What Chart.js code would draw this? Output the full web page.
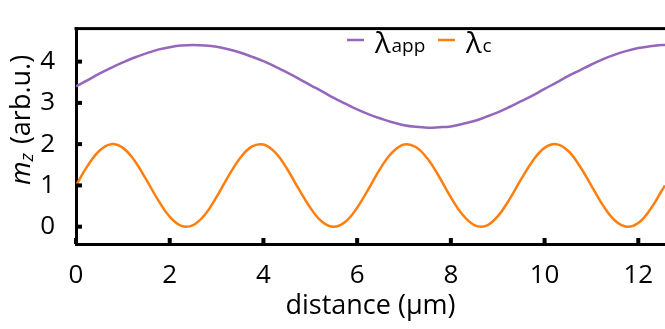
<!DOCTYPE html>
<html>
<head>
<meta charset="utf-8">
<script src="https://cdn.jsdelivr.net/npm/chart.js@4.4.0/dist/chart.umd.min.js"></script>
<style>
  html, body { margin: 0; padding: 0; background: #fff; }
  #wrap { width: 665px; height: 329px; position: relative; }
</style>
</head>
<body>
<div id="wrap"><canvas id="chart"></canvas></div>
<script>
// --- data ---
const distance = [0, 0.25, 0.5, 0.75, 1, 1.25, 1.5, 1.75, 2, 2.25, 2.5, 2.75, 3, 3.25, 3.5, 3.75,
  4, 4.25, 4.5, 4.75, 5, 5.25, 5.5, 5.75, 6, 6.25, 6.5, 6.75, 7, 7.25, 7.5, 7.75,
  8, 8.25, 8.5, 8.75, 9, 9.25, 9.5, 9.75, 10, 10.25, 10.5, 10.75, 11, 11.25, 11.5, 11.75,
  12, 12.25, 12.5, 12.57];
const lambdaApp = [3.40, 3.55, 3.71, 3.85, 3.98, 4.10, 4.20, 4.29, 4.35, 4.39, 4.40, 4.39, 4.36, 4.30, 4.22, 4.12,
  4.01, 3.88, 3.74, 3.59, 3.43, 3.28, 3.12, 2.98, 2.84, 2.72, 2.62, 2.53, 2.46, 2.42, 2.40, 2.41,
  2.43, 2.49, 2.56, 2.66, 2.77, 2.90, 3.04, 3.18, 3.34, 3.49, 3.65, 3.79, 3.93, 4.06, 4.17, 4.26,
  4.33, 4.37, 4.40, 4.40];
const lambdaC = [1.00, 1.48, 1.84, 2.00, 1.91, 1.60, 1.14, 0.65, 0.24, 0.02, 0.04, 0.29, 0.72, 1.22, 1.66, 1.94,
  1.99, 1.80, 1.41, 0.92, 0.46, 0.12, 0.00, 0.12, 0.46, 0.93, 1.42, 1.80, 1.99, 1.93, 1.65, 1.21,
  0.71, 0.29, 0.04, 0.02, 0.25, 0.66, 1.15, 1.60, 1.91, 2.00, 1.84, 1.47, 0.99, 0.51, 0.15, 0.00,
  0.09, 0.41, 0.87, 1.00];
const seriesSubs = ['app', 'c'];
const seriesColors = ['#9467bd', '#ff7f0e'];
const xTickValues = [0, 2, 4, 6, 8, 10, 12];
const yTickValues = [0, 1, 2, 3, 4];

const FONT = '"Open Sans", "DejaVu Sans", sans-serif';

// --- 枠・目盛り・凡例・縦軸タイトル ---
const decorPlugin = {
  id: 'decor',
  afterDraw(chart) {
    const { ctx, chartArea: a, scales: { x, y } } = chart;
    ctx.save();
    ctx.fillStyle = '#000';
    // top frame line
    ctx.fillRect(a.left - 1.5, a.top - 1.5, a.right - a.left + 3, 3);
    // inward ticks
    yTickValues.forEach(v => {
      const py = y.getPixelForValue(v);
      ctx.fillRect(a.left, py - 2, 6, 4);
    });
    xTickValues.forEach(v => {
      const px = x.getPixelForValue(v);
      ctx.fillRect(px - 2, a.bottom - 6, 4, 6);
    });

    // legend
    const legendX = [347, 438];
    const ly = 40;
    chart.data.datasets.forEach((ds, i) => {
      const lx = legendX[i];
      ctx.strokeStyle = ds.borderColor;
      ctx.lineWidth = 2.5;
      ctx.beginPath();
      ctx.moveTo(lx, ly);
      ctx.lineTo(lx + 17, ly);
      ctx.stroke();
      ctx.fillStyle = '#000';
      ctx.textBaseline = 'alphabetic';
      ctx.textAlign = 'left';
      ctx.font = '29px ' + FONT;
      const tx = lx + 28;
      ctx.fillText('λ', tx, 53);
      const w = ctx.measureText('λ').width;
      ctx.font = '19px ' + FONT;
      ctx.fillText(seriesSubs[i], tx + w + 1, 52);
    });

    // y title: m_z (arb.u.)
    ctx.translate(30, 120);
    ctx.rotate(-Math.PI / 2);
    ctx.fillStyle = '#000';
    ctx.textBaseline = 'alphabetic';
    ctx.textAlign = 'left';
    const parts = [
      { t: 'm', f: 'italic 27px ' + FONT, dy: 0, gap: 0 },
      { t: 'z', f: 'italic 19px ' + FONT, dy: 3, gap: 2 },
      { t: ' (arb.u.)', f: '27px ' + FONT, dy: 0, gap: 0 }
    ];
    let total = 0;
    parts.forEach(p => { ctx.font = p.f; p.w = ctx.measureText(p.t).width + p.gap; total += p.w; });
    let cx = -total / 2;
    parts.forEach(p => { ctx.font = p.f; ctx.fillText(p.t, cx, p.dy); cx += p.w; });
    ctx.restore();
  }
};

new Chart(document.getElementById('chart').getContext('2d'), {
  type: 'line',
  data: {
    datasets: [
      {
        label: 'λapp',
        data: distance.map((d, i) => ({ x: d, y: lambdaApp[i] })),
        borderColor: seriesColors[0],
        borderWidth: 2.5,
        pointRadius: 0,
        tension: 0.4,
        fill: false
      },
      {
        label: 'λc',
        data: distance.map((d, i) => ({ x: d, y: lambdaC[i] })),
        borderColor: seriesColors[1],
        borderWidth: 2.5,
        pointRadius: 0,
        tension: 0.4,
        fill: false
      }
    ]
  },
  options: {
    responsive: true,
    maintainAspectRatio: false,
    animation: false,
    layout: { padding: { top: 4, right: 0, left: 0, bottom: 0 } },
    plugins: {
      legend: { display: false },
      tooltip: { enabled: false }
    },
    scales: {
      x: {
        type: 'linear',
        min: 0,
        max: 12.57,
        afterBuildTicks: scale => { scale.ticks = xTickValues.map(v => ({ value: v })); },
        afterFit: scale => { scale.height = 85; },
        grid: { display: false },
        border: { display: true, color: '#000', width: 3 },
        ticks: { color: '#000', padding: 8, maxRotation: 0, font: { family: FONT, size: 26 } },
        title: { display: true, text: 'distance (μm)', color: '#000', padding: { top: 0, bottom: 6 }, font: { family: FONT, size: 27 } }
      },
      y: {
        type: 'linear',
        min: -0.42,
        max: 4.8,
        afterBuildTicks: scale => { scale.ticks = yTickValues.map(v => ({ value: v })); },
        afterFit: scale => { scale.width = 76; },
        grid: { display: false },
        border: { display: true, color: '#000', width: 3 },
        ticks: { color: '#000', padding: 13, font: { family: FONT, size: 26 } }
      }
    }
  },
  plugins: [decorPlugin]
});
</script>
</body>
</html>
